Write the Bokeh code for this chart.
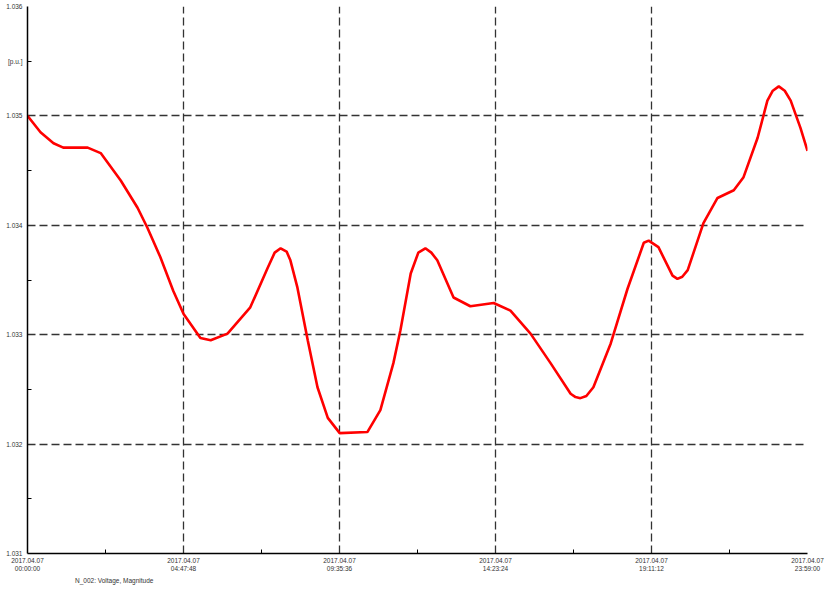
import pandas as pd
from bokeh.plotting import figure
from bokeh.layouts import column
from bokeh.models import FixedTicker, Legend, LegendItem, Range1d
from bokeh.embed import file_html
from bokeh.resources import INLINE

# --- data ---
times = ["00:00", "00:24", "00:48", "01:06", "01:51", "02:15", "02:52", "03:23", "03:41",
         "04:05", "04:29", "04:48", "05:19", "05:38", "06:09", "06:51", "07:23",
         "07:36", "07:47", "07:58", "08:05", "08:18", "08:37", "08:55", "09:14",
         "09:36", "10:27", "10:51", "11:15", "11:28", "11:47", "12:01", "12:14",
         "12:25", "12:36", "13:06", "13:37", "14:20", "14:51", "15:28", "16:05",
         "16:42", "16:51", "17:00", "17:11", "17:24", "17:56", "18:27", "18:57",
         "19:06", "19:15", "19:24", "19:50", "19:59", "20:08", "20:18", "20:47",
         "21:13", "21:43", "22:01", "22:27", "22:45", "22:55", "23:06", "23:17",
         "23:28", "23:46", "23:59"]
voltage = [1.03500, 1.03485, 1.03475, 1.03471, 1.03471, 1.03466, 1.03441, 1.03416, 1.03398,
           1.03371, 1.03340, 1.03319, 1.03297, 1.03295, 1.03301, 1.03325, 1.03361,
           1.03375, 1.03379, 1.03376, 1.03368, 1.03343, 1.03295, 1.03252, 1.03224,
           1.03210, 1.03211, 1.03231, 1.03274, 1.03304, 1.03356, 1.03375, 1.03379,
           1.03375, 1.03368, 1.03334, 1.03326, 1.03329, 1.03322, 1.03301, 1.03274,
           1.03246, 1.03243, 1.03242, 1.03244, 1.03252, 1.03292, 1.03342, 1.03384,
           1.03386, 1.03383, 1.03380, 1.03354, 1.03351, 1.03353, 1.03359, 1.03402,
           1.03425, 1.03432, 1.03444, 1.03480, 1.03514, 1.03523, 1.03527, 1.03523,
           1.03514, 1.03489, 1.03468]
series_name = "N_002: Voltage, Magnitude"
day = "2017-04-07"
x_tick_times = ["00:00:00", "04:47:48", "09:35:36", "14:23:24", "19:11:12", "23:59:00"]
x_tick_date = "2017.04.07"
y_ticks = [1.031, 1.032, 1.033, 1.034, 1.035, 1.036]
y_unit_pos = 1.0355
y_unit_label = "[p.u.]"

# --- derived ---
x = pd.to_datetime([f"{day} {t}" for t in times])
x_ticks = [pd.Timestamp(f"{day} {t}").value / 1e6 for t in x_tick_times]
x_minor = [(a + b) / 2 for a, b in zip(x_ticks[:-1], x_ticks[1:])]
y_minor = [round(v + 0.0005, 4) for v in y_ticks[:-1]]

font = "Liberation Sans"
lab_color = "#333333"
red = "#ff0000"

p = figure(width=829, height=576, output_backend="svg", toolbar_location=None,
           x_axis_type="datetime",
           x_range=Range1d(x_ticks[0], x_ticks[-1]),
           y_range=Range1d(y_ticks[0], y_ticks[-1]),
           min_border_left=27, min_border_right=22, min_border_top=6,
           min_border_bottom=23)
p.outline_line_color = None
p.background_fill_color = "white"
p.border_fill_color = "white"

p.line(x, voltage, line_color=red, line_width=2.6)

# x axis
xa = p.xaxis[0]
xa.ticker = FixedTicker(ticks=x_ticks, minor_ticks=x_minor)
xa.major_label_overrides = {t: f"{x_tick_date}\n{s}" for t, s in zip(x_ticks, x_tick_times)}
xa.major_label_text_font = font
xa.major_label_text_font_size = "6.5px"
xa.major_label_text_color = lab_color
xa.major_label_standoff = 3
xa.major_tick_in = 0
xa.major_tick_out = 0
xa.minor_tick_in = 4
xa.minor_tick_out = 0
xa.minor_tick_line_color = "black"
xa.axis_line_color = "black"
xa.axis_line_width = 1.5
xa.axis_label = None

# y axis
ya = p.yaxis[0]
ya.ticker = FixedTicker(ticks=y_ticks + [y_unit_pos], minor_ticks=y_minor)
ya.major_label_overrides = {**{v: f"{v:.3f}" for v in y_ticks}, y_unit_pos: y_unit_label}
ya.major_label_text_font = font
ya.major_label_text_font_size = "6.5px"
ya.major_label_text_color = lab_color
ya.major_label_standoff = 5
ya.major_tick_in = 0
ya.major_tick_out = 0
ya.minor_tick_in = 4
ya.minor_tick_out = 0
ya.minor_tick_line_color = "black"
ya.axis_line_color = "black"
ya.axis_line_width = 1.5

# grids
for g in (p.xgrid[0], p.ygrid[0]):
    g.grid_line_color = "#333333"
    g.grid_line_dash = "8 4"
    g.grid_line_width = 1.3
p.xgrid[0].ticker = FixedTicker(ticks=x_ticks[1:])
p.ygrid[0].ticker = FixedTicker(ticks=y_ticks[1:])

# legend strip below the chart
lg = figure(width=829, height=13, output_backend="svg", toolbar_location=None,
            x_range=Range1d(0, 1), y_range=Range1d(0, 1),
            x_axis_location=None, y_axis_location=None,
            min_border_left=27, min_border_right=22, min_border_top=0,
            min_border_bottom=0)
lg.outline_line_color = None
lg.grid.visible = False
lg.background_fill_color = "white"
lg.border_fill_color = "white"
sample = lg.line([], [], line_color=red, line_width=2.6)
legend = Legend(items=[LegendItem(label=series_name, renderers=[sample])],
                location="top_left", orientation="horizontal",
                glyph_width=43, glyph_height=8, label_standoff=5,
                padding=0, margin=0, spacing=0,
                border_line_color=None, background_fill_alpha=0,
                label_text_font=font, label_text_font_size="6.5px",
                label_text_color=lab_color, label_height=8)
lg.add_layout(legend, "center")

layout = column(p, lg, spacing=0)
open("out.html", "w").write(file_html(layout, INLINE))
